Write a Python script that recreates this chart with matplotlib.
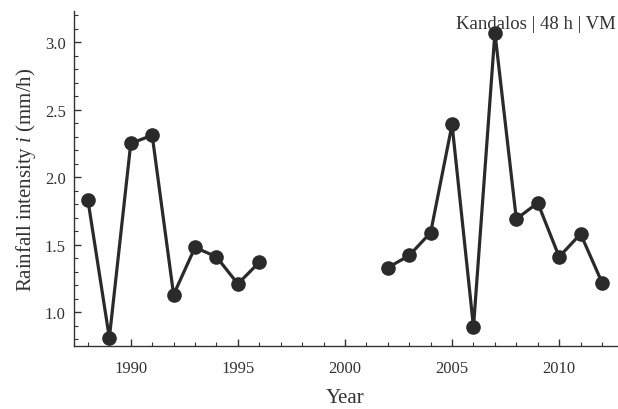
import matplotlib
matplotlib.use("Agg")
import matplotlib.pyplot as plt
from matplotlib.ticker import MultipleLocator, FormatStrFormatter

years_a = [1988, 1989, 1990, 1991, 1992, 1993, 1994, 1995, 1996]
vals_a = [1.83, 0.81, 2.25, 2.31, 1.13, 1.48, 1.41, 1.21, 1.37]
years_b = [2002, 2003, 2004, 2005, 2006, 2007, 2008, 2009, 2010, 2011, 2012]
vals_b = [1.33, 1.42, 1.59, 2.39, 0.89, 3.07, 1.69, 1.81, 1.41, 1.58, 1.22]

plt.rcParams['font.family'] = ['Liberation Serif', 'DejaVu Serif']
plt.rcParams['mathtext.fontset'] = 'custom'
plt.rcParams['mathtext.rm'] = 'Liberation Serif'
plt.rcParams['mathtext.it'] = 'Liberation Serif:italic'

fig = plt.figure(figsize=(6.18, 4.10), dpi=100)
ax = fig.add_axes([74/618, 63/410, 543/618, 335/410])

col = '#2a2a2a'
for xs, ys in [(years_a, vals_a), (years_b, vals_b)]:
    ax.plot(xs, ys, color=col, lw=2.3, marker='o', ms=9.5, zorder=3, clip_on=False)

ax.set_xlim(1987.35, 2012.7)
ax.set_ylim(0.75, 3.23)
ax.xaxis.set_major_locator(MultipleLocator(5))
ax.xaxis.set_minor_locator(MultipleLocator(1))
ax.yaxis.set_major_locator(MultipleLocator(0.5))
ax.yaxis.set_minor_locator(MultipleLocator(0.1))
ax.yaxis.set_major_formatter(FormatStrFormatter('%.1f'))
for s in ['top', 'right']:
    ax.spines[s].set_visible(False)
for s in ['left', 'bottom']:
    ax.spines[s].set_color('#333333')
    ax.spines[s].set_linewidth(1.0)
ax.tick_params(which='major', direction='in', length=5, width=1, color='#333333',
               labelsize=12, labelcolor='#333333')
ax.tick_params(axis='x', which='major', pad=10)
ax.tick_params(axis='y', which='major', pad=6)
ax.tick_params(which='minor', direction='in', length=3, width=0.8, color='#333333')

ax.set_xlabel('Year', fontsize=15, color='#333333', labelpad=9)
ax.set_ylabel('Rainfall intensity $\\mathit{i}$ (mm/h)', fontsize=15, color='#333333', labelpad=5)
ax.text(0.997, 0.964, 'Kandalos | 48 h | VM', transform=ax.transAxes, ha='right', va='center',
        fontsize=13.5, color='#333333')

fig.savefig('out.png', dpi=100)
